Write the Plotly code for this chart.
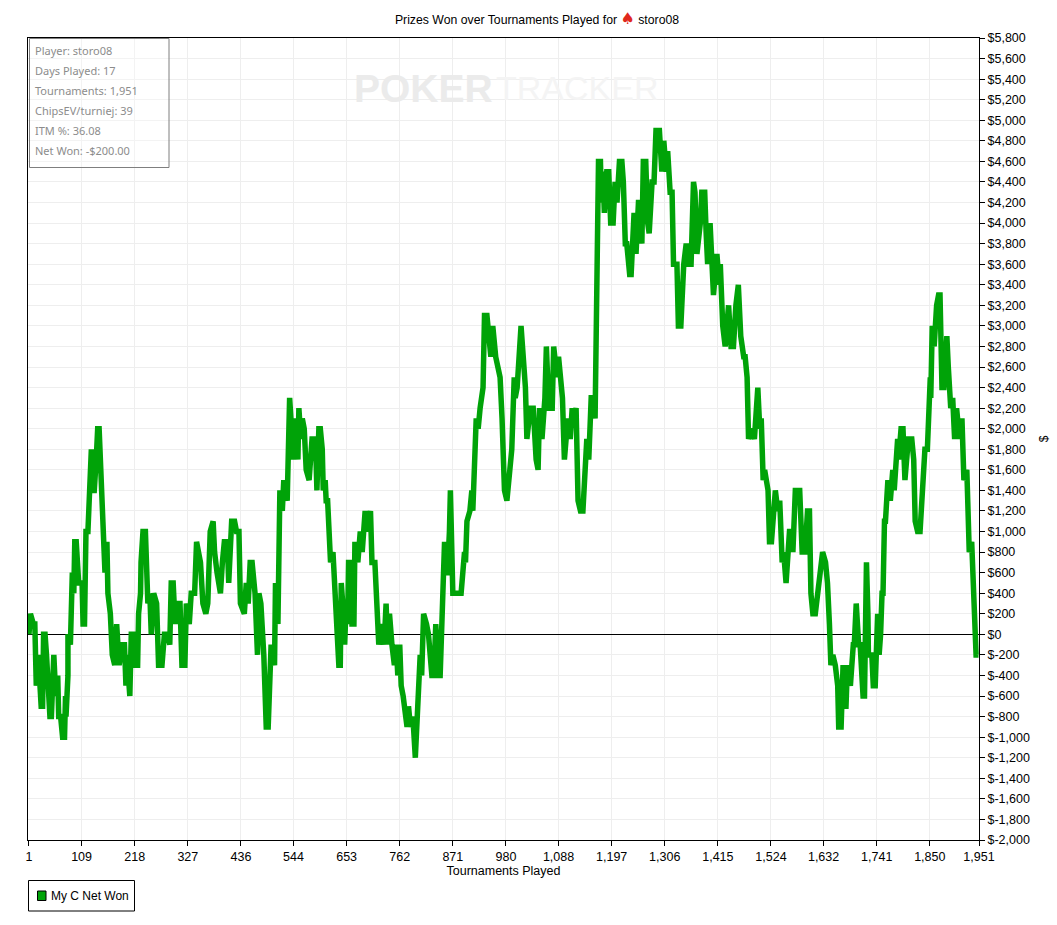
import plotly.graph_objects as go

WIDTH, HEIGHT = 1057, 925
L, R, T, B = 28, 78, 38, 85

tournaments = [1,4,10,13,16,20,26,29,31,34,37,44,47,52,56,60,62,66,70,74,76,77,81,81,86,90,93,95,98,103,110,112,115,118,122,125,129,131,135,139,142,145,153,157,161,163,168,172,177,181,186,192,197,200,202,208,211,216,220,224,226,230,231,235,240,245,249,252,257,263,267,274,279,286,290,293,297,301,305,311,315,321,324,330,334,341,345,349,353,358,364,368,372,373,379,382,387,394,398,402,408,411,417,423,427,432,435,443,447,451,455,459,465,470,473,477,483,488,492,498,505,507,512,513,516,521,524,531,536,544,548,553,555,559,562,566,570,576,
582,589,592,596,599,603,605,609,611,614,620,625,630,637,640,642,645,649,652,655,657,662,664,668,670,676,681,685,688,691,696,702,705,711,719,724,730,734,737,741,746,751,755,758,762,765,769,774,777,780,784,789,794,799,804,807,811,817,821,828,832,836,842,845,849,854,856,860,864,866,871,880,888,895,897,900,906,910,912,919,923,927,931,933,936,941,949,953,959,963,968,972,977,982,987,992,997,999,1003,1008,1011,1014,1020,1023,1030,1036,1038,1042,1046,1049,1054,1060,1063,1068,1075,1078,1085,1088,1096,1100,1107,1112,1116,1119,1124,1128,1133,1138,1146,1150,1155,1159,1163,1167,
1168,1170,1174,1176,1179,1182,1187,1191,1195,1200,1204,1208,1213,1218,1221,1225,1228,1234,1237,1242,1243,1247,1252,1256,1259,1262,1267,1271,1274,1280,1284,1288,1295,1300,1304,1309,1312,1317,1321,1324,1331,1334,1339,1345,1350,1355,1360,1365,1368,1372,1379,1382,1388,1391,1394,1399,1405,1406,1413,1418,1420,1425,1430,1437,1442,1447,1452,1457,1462,1468,1471,
1475,1478,1484,1490,1497,1501,1504,1508,1511,1518,1521,1525,1529,1533,1538,1542,1547,1550,1555,1558,1562,1565,1569,1574,1579,1583,1588,1594,1599,1603,1606,1610,1615,1624,1627,1630,1636,1640,1644,1647,1651,1656,1661,1663,1668,1672,1675,
1678,1681,1687,1693,1695,1699,1704,1707,1713,1716,1719,1720,1723,1724,1731,1734,1738,1743,1746,1749,1752,1754,1757,1759,1764,1769,1774,1777,1784,1786,1791,1795,1799,1806,1813,1817,1820,1825,1830,1833,1838,1840,1845,1851,1852,1855,1859,1864,1868,1871,1875,1879,1884,1885,1888,1893,1897,1901,1905,1911,1916,1920,1926,1931,1936,1940,1945,1950,1951]

net_won = [0,200,100,100,-500,-200,-700,-700,0,0,-200,-800,-800,-200,-600,-400,-800,-800,-1000,-1000,-600,-800,-400,0,-100,600,400,900,900,500,500,100,100,1000,1000,1400,1800,1400,1400,1700,2000,2000,900,600,900,400,200,-200,-300,100,-300,-100,-100,-500,-200,-600,0,0,-300,-300,200,400,700,1000,1000,300,400,0,400,300,-300,-300,0,0,-100,500,500,100,300,300,-300,-300,300,100,400,400,900,800,700,300,200,300,700,1000,1100,800,600,400,700,900,900,500,1100,1100,1000,1000,300,200,500,300,700,700,400,-200,400,300,-200,-900,-900,-100,-300,500,100,1100,1400,1200,1500,1300,2300,1700,2100,1700,2200,1900,2100,2000,1600,1500,
1900,1900,1400,2000,2000,1800,1400,1500,1300,1300,700,800,300,-300,-300,500,300,-100,300,100,700,700,100,100,900,700,1000,800,1000,1200,1000,1200,700,700,-100,100,-100,300,-100,200,-100,-300,-100,-400,-100,-500,-600,-800,-900,-700,-900,-800,-1200,-700,-200,-400,200,100,0,-400,-400,100,-400,-400,100,900,600,600,1000,1400,400,400,400,800,700,1100,1200,1400,1200,2100,2000,2200,2300,2400,3100,3100,2700,3000,2700,2600,2500,2100,1400,1300,1600,1800,2500,2300,2400,2700,3000,2800,2400,1900,2200,2200,1900,1700,1600,2200,1900,2300,2800,2200,2200,2800,2500,2700,2300,1700,2100,1900,2200,2100,2200,1300,1200,1200,1900,1700,2300,2300,2100,
4100,3900,4600,4600,4200,4500,4100,4500,4500,4000,4000,4400,4200,4600,4600,4400,3800,3800,3500,3500,4100,4100,3700,4200,4200,3800,4600,4600,4000,3900,4400,4400,4900,4900,4500,4800,4500,4700,4300,4300,3600,3600,3000,3000,3600,3800,3600,3600,4400,4300,3700,4000,4300,4300,3900,3600,4000,3500,3300,3700,3400,3600,3000,2800,3200,2800,2800,3200,3400,2900,2700,
2700,2500,1900,2000,1900,2400,2000,2100,1500,1600,1400,900,900,1200,1400,1200,1300,700,800,500,700,1000,1000,800,1400,1400,1400,800,800,1200,1200,400,200,200,600,700,800,700,500,100,-300,-200,-300,-500,-900,-900,-300,
-700,-700,-300,-500,-100,-100,300,-100,-100,-600,-600,700,700,200,-200,-200,-500,-500,200,-200,0,400,400,1100,1100,1500,1300,1600,1400,1900,1700,2000,2000,1500,1900,1900,1700,1100,1000,1000,1200,1700,1800,1800,2500,2300,3000,2800,3200,3300,3300,2400,2400,2900,2900,2600,2200,2300,1900,2200,1900,2100,1500,1600,800,900,200,-200,-200]

x_ticks = [1,109,218,327,436,544,653,762,871,980,1088,1197,1306,1415,1524,1632,1741,1850,1951]
y_ticks = list(range(-2000, 5801, 200))
x_labels = [f"{v:,}" for v in x_ticks]
y_labels = [f"${v:,}" for v in y_ticks]
stats = ["Player: storo08","Days Played: 17","Tournaments: 1,951","ChipsEV/turniej: 39","ITM %: 36.08","Net Won: -$200.00"]
legend_label = "My C Net Won"

GREEN = "#00a308"
FONT = "Liberation Sans"
pw, ph = WIDTH - L - R, HEIGHT - T - B
def px(x): return (x - L) / pw
def py(y): return 1 - (y - T) / ph

fig = go.Figure()
fig.add_trace(go.Scatter(x=tournaments, y=net_won, mode="lines", showlegend=False, name=legend_label,
                         line=dict(color=GREEN, width=5.5), hoverinfo="skip"))

anns = []
for i, s in enumerate(stats):
    anns.append(dict(text=s, xref="paper", yref="paper", x=px(32.5), y=py(50.5 + 20 * i), xanchor="left", yanchor="middle",
                     showarrow=False, font=dict(family="Noto Sans", size=11, color="#8c8c8c")))
anns.append(dict(text="POKER", xref="paper", yref="paper", x=px(352), y=py(88), xanchor="left", yanchor="middle",
                 showarrow=False, font=dict(family=FONT, size=39, color="#ebebeb", weight=700)))
anns.append(dict(text="TRACKER", xref="paper", yref="paper", x=px(494), y=py(88), xanchor="left", yanchor="middle",
                 showarrow=False, font=dict(family=FONT, size=34, color="#f4f4f4")))
anns.append(dict(text=legend_label, xref="paper", yref="paper", x=px(49), y=py(896), xanchor="left", yanchor="middle",
                 showarrow=False, font=dict(family=FONT, size=12, color="black")))

fig.update_layout(
    width=WIDTH, height=HEIGHT, autosize=False,
    margin=dict(l=L, r=R, t=T, b=B, pad=0, autoexpand=False),
    paper_bgcolor="white", plot_bgcolor="white",
    font=dict(family=FONT, size=12.5, color="black"),
    showlegend=False,
    title=dict(text='Prizes Won over Tournaments Played for <span style="color:#e0281c;font-family:DejaVu Sans;font-size:16px">♠</span> storo08',
               xref="container", yref="container", x=537 / WIDTH, y=1 - 20 / HEIGHT,
               xanchor="center", yanchor="middle", font=dict(family=FONT, size=12.25, color="black")),
    xaxis=dict(range=[-1, 1951], tickmode="array", tickvals=x_ticks, ticktext=x_labels, automargin=False,
               ticks="outside", ticklen=5, tickcolor="black", showline=True, linecolor="black", linewidth=1,
               mirror=True, showgrid=True, gridcolor="#eeeeee", gridwidth=1, zeroline=False,
               tickangle=0, title=dict(text="Tournaments Played", standoff=2, font=dict(size=12.5))),
    yaxis=dict(range=[-2000, 5800], side="right", tickmode="array", tickvals=y_ticks, ticktext=y_labels, automargin=False,
               ticks="outside", ticklen=5, tickcolor="black", showline=True, linecolor="black", linewidth=1,
               mirror=True, showgrid=True, gridcolor="#eeeeee", gridwidth=1,
               zeroline=True, zerolinecolor="black", zerolinewidth=1,
               title=dict(text="$", standoff=10, font=dict(size=12))),
    annotations=anns,
    shapes=[dict(type="rect", xref="paper", yref="paper", x0=px(29.5), x1=px(169), y0=py(167.5), y1=py(38.5),
                 line=dict(color="#7f7f7f", width=1), fillcolor="rgba(255,255,255,0.3)"),
            dict(type="rect", xref="paper", yref="paper", x0=px(28.5), x1=px(134.5), y0=py(911), y1=py(880.5),
                 line=dict(color="black", width=1), fillcolor="white"),
            dict(type="rect", xref="paper", yref="paper", x0=px(37.5), x1=px(46), y0=py(900.5), y1=py(891),
                 line=dict(color="black", width=1), fillcolor=GREEN)],
)
fig.write_html("out.html", config=dict(displayModeBar=False),
               post_script="document.body.style.margin='0';document.body.style.overflow='hidden';")
